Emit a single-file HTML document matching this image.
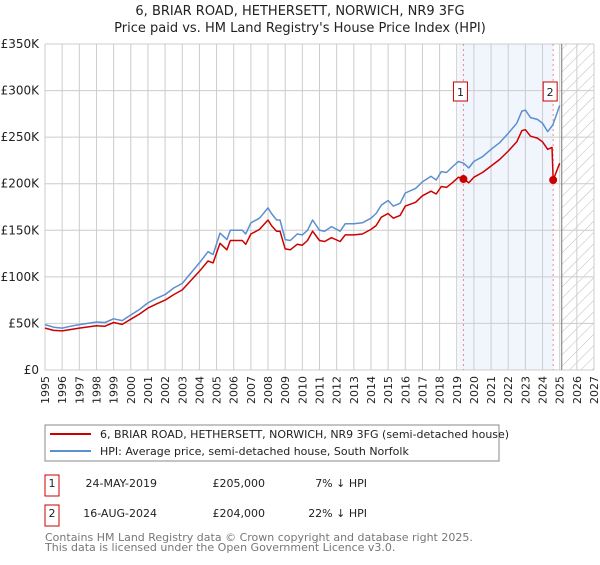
<!DOCTYPE html>
<html><head><meta charset="utf-8"><style>
body{margin:0;background:#fff;font-family:"Liberation Sans","DejaVu Sans",sans-serif;}
svg text{font-family:"DejaVu Sans","Liberation Sans",sans-serif;}
</style></head><body>
<svg id="chart" width="600" height="560" xmlns="http://www.w3.org/2000/svg">
<text x="300" y="15" text-anchor="middle" font-size="13" fill="#222">6, BRIAR ROAD, HETHERSETT, NORWICH, NR9 3FG</text>
<text x="300" y="32" text-anchor="middle" font-size="13" fill="#222">Price paid vs. HM Land Registry's House Price Index (HPI)</text>
<g id="plot"></g>
<g>
<rect x="45" y="425" width="454" height="36" fill="#fff" stroke="#888"/>
<line x1="50" y1="434" x2="91" y2="434" stroke="#cc0000" stroke-width="2"/>
<text x="100" y="438" font-size="11" fill="#222">6, BRIAR ROAD, HETHERSETT, NORWICH, NR9 3FG (semi-detached house)</text>
<line x1="50" y1="451" x2="91" y2="451" stroke="#5b8fd0" stroke-width="2"/>
<text x="100" y="455" font-size="11" fill="#222">HPI: Average price, semi-detached house, South Norfolk</text>
</g>
<g>
<rect x="45" y="475" width="14" height="21" fill="#fff" stroke="#cc0000"/>
<text x="52" y="487" font-size="11" text-anchor="middle" fill="#222">1</text>
<text x="157" y="487" font-size="11" text-anchor="end" fill="#222">24-MAY-2019</text>
<text x="265" y="487" font-size="11" text-anchor="end" fill="#222">£205,000</text>
<text x="367" y="487" font-size="11" text-anchor="end" fill="#222">7% ↓ HPI</text>
<rect x="45" y="505" width="14" height="21" fill="#fff" stroke="#cc0000"/>
<text x="52" y="517" font-size="11" text-anchor="middle" fill="#222">2</text>
<text x="157" y="517" font-size="11" text-anchor="end" fill="#222">16-AUG-2024</text>
<text x="265" y="517" font-size="11" text-anchor="end" fill="#222">£204,000</text>
<text x="367" y="517" font-size="11" text-anchor="end" fill="#222">22% ↓ HPI</text>
</g>
<text x="45" y="541" font-size="11" fill="#777">Contains HM Land Registry data © Crown copyright and database right 2025.</text>
<text x="45" y="551" font-size="11" fill="#777">This data is licensed under the Open Government Licence v3.0.</text>
</svg>
<script>
const hpiDates=[1995.0,1995.5,1996.0,1996.5,1997.0,1998.0,1998.5,1999.0,1999.5,2000.0,2000.5,2001.0,2001.5,2002.0,2002.5,2003.0,2003.5,2004.0,2004.5,2004.8,2005.2,2005.6,2005.8,2006.5,2006.7,2007.0,2007.5,2008.0,2008.2,2008.5,2008.7,2009.0,2009.3,2009.7,2010.0,2010.3,2010.6,2011.0,2011.3,2011.7,2012.2,2012.5,2013.0,2013.5,2014.0,2014.3,2014.6,2015.0,2015.3,2015.7,2016.0,2016.6,2017.0,2017.5,2017.8,2018.1,2018.4,2018.8,2019.1,2019.4,2019.7,2020.0,2020.5,2021.0,2021.5,2022.0,2022.5,2022.8,2023.0,2023.3,2023.7,2024.0,2024.3,2024.6,2025.0];
const hpiValues=[48.7,46,45,47,48.7,51.5,51,55,53,59,65,72,77,81,88,93,104,115,127,124,147,140,150,150,146,158,163,174,168,161,161,140,139,146,145,150,161,150,149,154,149,157,157,158,163,168,177,182,176,179,190,195,202,208,204,213,212,219,224,222,217,224,229,237,244,254,265,278,279,271,269,265,256,263,284];
const priceDates=[1995.0,1995.5,1996.0,1996.5,1997.0,1998.0,1998.5,1999.0,1999.5,2000.0,2000.5,2001.0,2001.5,2002.0,2002.5,2003.0,2003.5,2004.0,2004.5,2004.8,2005.2,2005.6,2005.8,2006.5,2006.7,2007.0,2007.5,2008.0,2008.2,2008.5,2008.7,2009.0,2009.3,2009.7,2010.0,2010.3,2010.6,2011.0,2011.3,2011.7,2012.2,2012.5,2013.0,2013.5,2014.0,2014.3,2014.6,2015.0,2015.3,2015.7,2016.0,2016.6,2017.0,2017.5,2017.8,2018.1,2018.4,2018.8,2019.1,2019.39,2019.7,2020.0,2020.5,2021.0,2021.5,2022.0,2022.5,2022.8,2023.0,2023.3,2023.7,2024.0,2024.3,2024.55,2024.62,2025.0];
const priceValues=[45,42.5,42,43.5,45,47.5,47,51,49,54.5,60,66.5,71,75,81,86,96,106,117,115,136,129,139,139,135,146,151,161,155,149,149,130,129,135,134,139,149,139,138,142,138,145,145,146,151,155,164,168,163,166,176,180,187,192,189,197,196,202,207,205,201,207,212,219,226,235,245,257,258,251,249,245,237,239,204,222];
const sales=[{label:'1',date:2019.39,value:205},{label:'2',date:2024.62,value:204}];
const yTicks=[0,50,100,150,200,250,300,350];
const yTickLabels=['£0','£50K','£100K','£150K','£200K','£250K','£300K','£350K'];
const xYears=[];for(let y=1995;y<=2027;y++)xYears.push(y);

const X0=45,X1=594,Y0=370,Y1=44;
const xs=d=>X0+(d-1995)/(2027-1995)*(X1-X0);
const ys=v=>Y0-v/350*(Y0-Y1);
const NS='http://www.w3.org/2000/svg';
const g=document.getElementById('plot');
function mk(t,a){const e=document.createElementNS(NS,t);for(const k in a)e.setAttribute(k,a[k]);g.appendChild(e);return e;}

let band=mk('rect',{x:xs(2019.1),y:Y1,width:xs(sales[1].date)-xs(2019.1),height:Y0-Y1,fill:'#eef3fc',opacity:0.8});


const defs=document.createElementNS(NS,'defs');
defs.innerHTML='<pattern id="hatch" width="8" height="8" patternUnits="userSpaceOnUse" patternTransform="rotate(45)"><line x1="0" y1="0" x2="0" y2="8" stroke="#bbb" stroke-width="1"/></pattern>';
g.appendChild(defs);
let hatch=mk('rect',{x:xs(2025.12),y:Y1,width:X1-xs(2025.12),height:Y0-Y1,fill:'url(#hatch)'});



yTicks.forEach((v,i)=>{
  let l=mk('line',{x1:X0,x2:X1,y1:ys(v),y2:ys(v),stroke:'#ccc','stroke-width':1});
  
  
  let t=mk('text',{x:X0-6,y:ys(v)+4,'text-anchor':'end','font-size':12,fill:'#222'});
  t.textContent=yTickLabels[i];
  
  
});
xYears.forEach(y=>{
  let l=mk('line',{x1:xs(y),x2:xs(y),y1:Y1,y2:Y0,stroke:'#ccc','stroke-width':1});
  
  
  let t=mk('text',{x:0,y:0,'text-anchor':'end','font-size':11,fill:'#222',transform:`translate(${xs(y)+4},${Y0+6}) rotate(-90)`});
  t.textContent=y;
  
  
});
let edge=mk('line',{x1:xs(2025.12),x2:xs(2025.12),y1:Y1,y2:Y0,stroke:'#777','stroke-width':1});



sales.forEach(s=>{
  let l=mk('line',{x1:xs(s.date),x2:xs(s.date),y1:Y1,y2:Y0,stroke:'#e88','stroke-width':1,'stroke-dasharray':'2,3'});
  
  
});

function path(dates,vals,color,name){
  let d=dates.map((t,i)=>(i?'L':'M')+xs(t).toFixed(1)+','+ys(vals[i]).toFixed(1)).join('');
  let p=mk('path',{d:d,fill:'none',stroke:color,'stroke-width':1.5,'stroke-linejoin':'round'});
  
  
}
path(hpiDates,hpiValues,'#5b8fd0','hpi-line');
path(priceDates,priceValues,'#cc0000','property-price-line');

sales.forEach(s=>{
  let c=mk('circle',{cx:xs(s.date),cy:ys(s.value),r:4,fill:'#cc0000'});
  
  
  let b=mk('rect',{x:xs(s.date)-10,y:82,width:14,height:19,fill:'#fff',stroke:'#cc0000'});
  
  
  let t=mk('text',{x:xs(s.date)-3,y:96,'text-anchor':'middle','font-size':11,fill:'#222'});
  t.textContent=s.label;
  
  
});
</script>
</body></html>
